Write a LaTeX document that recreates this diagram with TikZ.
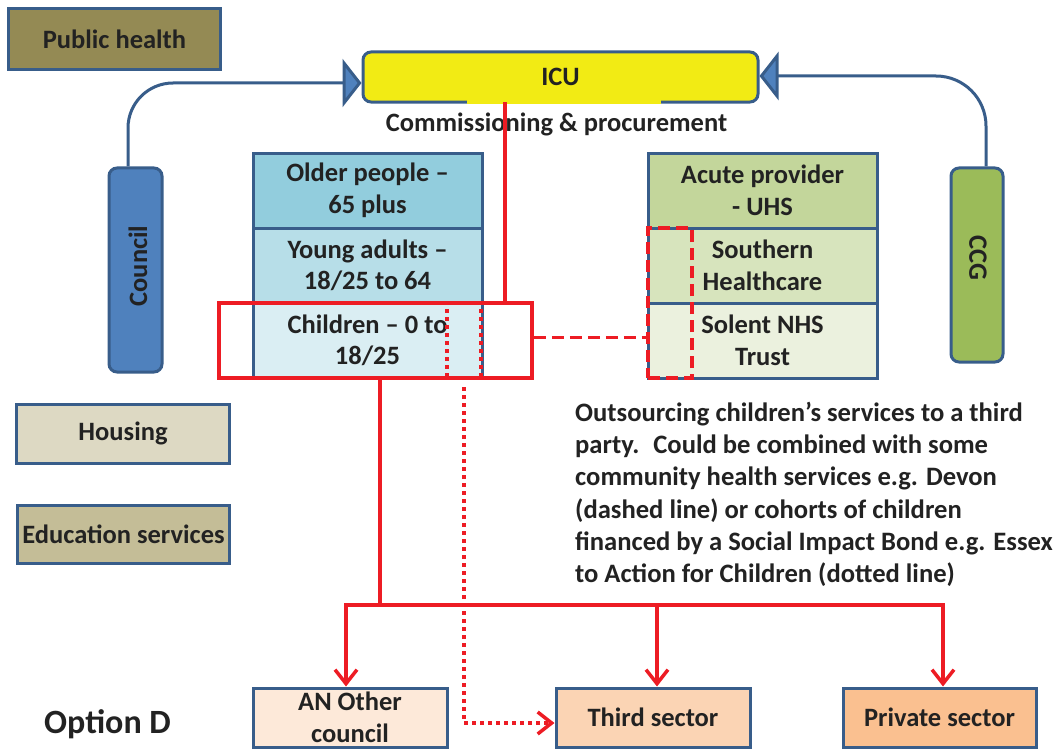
\documentclass[tikz,border=0pt]{standalone}
\usepackage{fontspec}
\setmainfont{Carlito}
\usetikzlibrary{arrows.meta,calc}
\definecolor{bord}{HTML}{385D8A}
\definecolor{txt}{HTML}{222222}
\definecolor{rd}{HTML}{ED1C24}
\definecolor{phfill}{HTML}{948A54}
\definecolor{icuy}{HTML}{F2EB14}
\definecolor{cblue}{HTML}{4F81BD}
\definecolor{ccgg}{HTML}{9BBB59}
\definecolor{older}{HTML}{92CDDD}
\definecolor{young}{HTML}{B7DEE8}
\definecolor{child}{HTML}{DAEEF3}
\definecolor{acute}{HTML}{C3D69B}
\definecolor{south}{HTML}{D7E4BD}
\definecolor{solent}{HTML}{EBF1DE}
\definecolor{housing}{HTML}{DDD9C3}
\definecolor{educ}{HTML}{C4BD97}
\definecolor{anoth}{HTML}{FDE9D9}
\definecolor{third}{HTML}{FBD4B4}
\definecolor{priv}{HTML}{FAC090}
\begin{document}
\begin{tikzpicture}[x=1bp,y=-1bp,
  every node/.style={font=\bfseries\fontsize{26.5bp}{31.5bp}\selectfont, text=txt, align=center, inner sep=1bp},
  box/.style={draw=bord, line width=3bp},
  blueconn/.style={draw=bord, line width=3bp, -{Triangle[length=19bp,width=48bp,fill=cblue]}},
  redline/.style={draw=rd, line width=3.5bp},
  redarrow/.style={redline, -{Straight Barb[length=14bp,width=22bp]}},
  reddot/.style={draw=rd, line width=3.5bp, dash pattern=on 4bp off 4bp},
  reddash/.style={draw=rd, line width=3.5bp, dash pattern=on 12bp off 6bp}
]
\useasboundingbox (0,0) rectangle (1058,749);

% left column boxes
\node[box, fill=phfill, minimum width=211bp, minimum height=60bp] (ph) at (114.5,39) {Public health};
\node[box, fill=housing, minimum width=212bp, minimum height=59bp] (housing) at (123,433.5) {Housing};
\node[box, fill=educ, minimum width=211bp, minimum height=58bp] (educ) at (123.5,534) {Education services};

% ICU
\node[box, rounded corners=8bp, fill=icuy, minimum width=395bp, minimum height=50bp] (icu) at (560.5,77) {ICU};
\fill[icuy] (467,100.2) rectangle (661,103.8);
\node[anchor=base] (cp) at (556.5,131) {Commissioning \& procurement};

% Council and CCG
\node[box, rounded corners=8bp, fill=cblue, minimum width=53bp, minimum height=204bp] (council) at (135.5,270) {};
\node[rotate=90] (counciltxt) at (138,266) {Council};
\node[box, rounded corners=8bp, fill=ccgg, minimum width=52bp, minimum height=194bp] (ccg) at (977,265) {};
\node[rotate=-90] (ccgtxt) at (978,258) {CCG};

\draw[blueconn, rounded corners=45bp] ($(council.north)+(-7.5,0)$) |- ($(icu.west)+(0,6)$);
\draw[blueconn, rounded corners=50bp] ($(ccg.north)+(9,0)$) |- ($(icu.east)+(0,-1)$);

% middle stack
\node[box, fill=older, minimum width=229bp, minimum height=75bp] (older) at (367.5,190.5) {Older people --\\65 plus};
\node[box, fill=young, minimum width=229bp, minimum height=75bp] (young) at (367.5,265.5) {Young adults --\\18/25 to 64};
\node[box, fill=child, minimum width=229bp, minimum height=75bp] (child) at (367.5,340.5) {Children -- 0 to\\18/25};

% right stack
\node[box, fill=acute, minimum width=229bp, minimum height=75bp] (acute) at (762.5,190.5) {Acute provider\\- UHS};
\node[box, fill=south, minimum width=229bp, minimum height=75bp] (south) at (762.5,265.5) {Southern\\Healthcare};
\node[box, fill=solent, minimum width=229bp, minimum height=75bp] (solent) at (762.5,340.5) {Solent NHS\\Trust};

% red frames
\node[redline, minimum width=313bp, minimum height=75bp] (cr) at (375.5,340.5) {};
\node[reddash, minimum width=44bp, minimum height=150bp] (dr) at (670,303) {};

% paragraph
\node[anchor=north west, align=left, inner sep=0pt, font=\bfseries\fontsize{26.6bp}{32.2bp}\selectfont] (para) at (575,402) {Outsourcing children’s services to a third\\party.~ Could be combined with some\\community health services e.g. Devon\\(dashed line) or cohorts of children\\financed by a Social Impact Bond e.g. Essex\\to Action for Children (dotted line)};

% bottom boxes
\node[box, fill=anoth, minimum width=194bp, minimum height=59bp] (an) at (350,717.5) {AN Other\\council};
\node[box, fill=third, minimum width=194bp, minimum height=59bp] (third) at (653,717.5) {Third sector};
\node[box, fill=priv, minimum width=193bp, minimum height=59bp] (priv) at (939.5,717.5) {Private sector};

\node[anchor=base west, font=\bfseries\fontsize{34bp}{40bp}\selectfont] (opt) at (43,733) {Option D};

% red connectors
\coordinate (tap) at (505,102);
\draw[redline] (tap) -- (tap |- cr.north);
\coordinate (split) at (380,605);
\draw[redline] (split |- cr.south) -- (split);
\draw[redarrow] (split) -| ($(an.north)+(-4,0)$);
\draw[redarrow] (split) -| ($(priv.north)+(3.5,0)$);
\draw[redarrow] ($(third.north |- split)+(4,0)$) -- ($(third.north)+(4,0)$);

% dotted
\draw[reddot] (cr.north -| 447,0) -- (cr.south -| 447,0);
\draw[reddot] (cr.north -| 481,0) -- (cr.south -| 481,0);
\draw[reddot, -{Straight Barb[length=14bp,width=22bp]}] (464,387) |- ($(third.west)+(0,5.5)$);

% dashed link
\draw[reddash] ($(cr.east)+(0,-3)$) -- ($(cr.east -| dr.west)+(0,-3)$);
\end{tikzpicture}
\end{document}
